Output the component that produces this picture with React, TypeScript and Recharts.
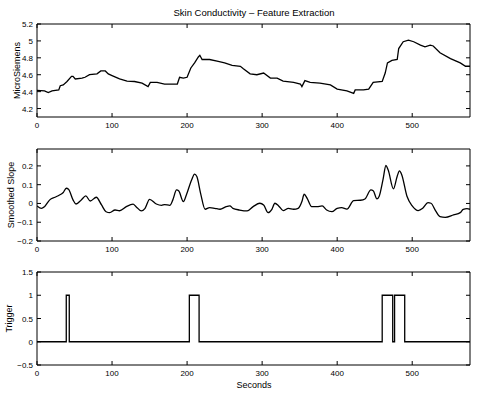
import React from "react";
import { LineChart, Line, XAxis, YAxis } from "recharts";

const scTimes = [0, 10, 15, 20, 29, 31, 35, 40, 46, 48, 51, 60, 64, 70, 80, 85, 91, 95, 100, 110, 120, 130, 140, 148, 151, 160, 170, 180, 187, 190, 195, 200, 205, 210, 215, 217, 220, 230, 240, 250, 260, 271, 275, 284, 293, 302, 311, 320, 328, 342, 351, 353, 357, 364, 377, 391, 400, 413, 422, 424, 435, 442, 448, 460, 464, 467, 473, 480, 482, 488, 495, 502, 511, 517, 524, 528, 537, 551, 564, 571, 577];
const scValues = [4.415, 4.41, 4.39, 4.41, 4.42, 4.47, 4.48, 4.52, 4.58, 4.58, 4.55, 4.56, 4.57, 4.6, 4.61, 4.645, 4.645, 4.61, 4.59, 4.55, 4.525, 4.52, 4.5, 4.46, 4.51, 4.51, 4.49, 4.49, 4.49, 4.57, 4.56, 4.57, 4.68, 4.74, 4.81, 4.83, 4.78, 4.78, 4.76, 4.74, 4.71, 4.7, 4.67, 4.61, 4.6, 4.62, 4.56, 4.56, 4.525, 4.51, 4.49, 4.46, 4.53, 4.51, 4.5, 4.48, 4.43, 4.41, 4.38, 4.42, 4.42, 4.43, 4.51, 4.52, 4.62, 4.74, 4.77, 4.78, 4.91, 4.99, 5.01, 4.99, 4.95, 4.93, 4.95, 4.94, 4.86, 4.79, 4.74, 4.7, 4.7];

const slopeTimes = [0, 6, 10, 17, 24, 30, 35, 39, 42, 48, 52, 59, 65, 71, 79, 86, 92, 97, 104, 110, 119, 128, 132, 139, 144, 150, 159, 166, 170, 177, 181, 186, 189, 195, 199, 206, 210, 213, 218, 224, 230, 237, 244, 252, 257, 261, 270, 280, 288, 297, 302, 308, 313, 317, 322, 328, 335, 342, 348, 353, 356, 360, 366, 373, 380, 386, 393, 400, 406, 413, 422, 431, 437, 445, 448, 453, 456, 461, 465, 468, 475, 480, 483, 486, 493, 500, 508, 514, 521, 525, 531, 537, 544, 555, 564, 568, 573, 577];
const slopeValues = [-0.013, -0.026, -0.017, 0.019, 0.033, 0.045, 0.058, 0.081, 0.076, 0.019, -0.003, 0.019, 0.04, 0.013, 0.033, -0.008, -0.044, -0.049, -0.035, -0.039, -0.017, -0.004, -0.017, -0.04, -0.026, 0.022, -0.003, -0.01, -0.006, -0.01, 0.019, 0.072, 0.066, 0.01, 0.045, 0.125, 0.156, 0.143, 0.054, -0.031, -0.022, -0.026, -0.031, -0.017, -0.013, -0.026, -0.035, -0.04, -0.017, 0.001, -0.008, -0.049, -0.031, 0.001, -0.013, -0.038, -0.026, -0.031, -0.026, 0.01, 0.049, 0.027, -0.017, -0.017, -0.013, -0.035, -0.044, -0.026, -0.022, -0.03, 0.015, 0.017, 0.024, 0.072, 0.068, 0.024, 0.038, 0.125, 0.202, 0.178, 0.078, 0.145, 0.173, 0.153, 0.038, -0.013, -0.038, -0.026, 0.004, 0.001, -0.038, -0.07, -0.074, -0.061, -0.049, -0.031, -0.028, -0.031];

const triggerTimes = [0, 39, 39, 43, 43, 203, 203, 216, 216, 460, 460, 474, 474, 476.5, 476.5, 490, 490, 577];
const triggerValues = [0, 0, 1, 1, 0, 0, 1, 1, 0, 0, 1, 1, 0, 0, 1, 1, 0, 0];

const xTicks = [0, 100, 200, 300, 400, 500];
const scTicks = [4.2, 4.4, 4.6, 4.8, 5, 5.2];
const slopeTicks = [-0.2, -0.1, 0, 0.1, 0.2];
const triggerTicks = [-0.5, 0, 0.5, 1, 1.5];

const X_MAX = 577;
const FONT = "'Liberation Sans', Arial, Helvetica, sans-serif";
const FS = 8;

const fmt = (v: number) => {
  const r = Math.round(v * 100) / 100;
  return String(r).replace("-", "\u2212");
};

const zip = (t: number[], v: number[]) => t.map((x, i) => ({ t: x, v: v[i] }));
const scData = zip(scTimes, scValues);
const slopeData = zip(slopeTimes, slopeValues);
const triggerData = zip(triggerTimes, triggerValues);

const LeftTick = (p: any) => (
  <g>
    <line x1={p.x} y1={p.y} x2={p.x + 4} y2={p.y} stroke="#000" />
    <text x={p.x - 4} y={p.y + 3} textAnchor="end" fontSize={FS} fontFamily={FONT} fill="#000">
      {fmt(p.payload.value)}
    </text>
  </g>
);
const RightTick = (p: any) => (
  <g>
    <line x1={p.x} y1={p.y} x2={p.x - 4} y2={p.y} stroke="#000" />
  </g>
);
const BottomTick = (p: any) => (
  <g>
    <line x1={p.x} y1={p.y} x2={p.x} y2={p.y - 4} stroke="#000" />
    <text x={p.x} y={p.y + 11} textAnchor="middle" fontSize={FS} fontFamily={FONT} fill="#000">
      {fmt(p.payload.value)}
    </text>
  </g>
);
const TopTick = (p: any) => (
  <g>
    <line x1={p.x} y1={p.y} x2={p.x} y2={p.y + 4} stroke="#000" />
  </g>
);

type PanelProps = {
  top: number;
  height: number;
  data: { t: number; v: number }[];
  domain: [number, number];
  ticks: number[];
  curve: "linear" | "monotone";
};

const Panel = ({ top, height, data, domain, ticks, curve }: PanelProps) => (
  <div style={{ position: "absolute", left: 0, top, width: 488, height }}>
    <LineChart width={488} height={height} data={data} margin={{ top: 0, right: 0, bottom: 0, left: 0 }}>
      <XAxis
        xAxisId="b"
        dataKey="t"
        type="number"
        domain={[0, X_MAX]}
        ticks={xTicks}
        interval={0}
        allowDataOverflow
        height={20}
        tickSize={0}
        tickMargin={0}
        tickLine={false}
        axisLine={{ stroke: "#000" }}
        tick={BottomTick}
      />
      <XAxis
        xAxisId="t"
        orientation="top"
        dataKey="t"
        type="number"
        domain={[0, X_MAX]}
        ticks={xTicks}
        interval={0}
        allowDataOverflow
        height={10}
        tickSize={0}
        tickMargin={0}
        tickLine={false}
        axisLine={{ stroke: "#000" }}
        tick={TopTick}
      />
      <YAxis
        yAxisId="l"
        type="number"
        domain={domain}
        ticks={ticks}
        interval={0}
        allowDataOverflow
        width={37}
        tickSize={0}
        tickMargin={0}
        tickLine={false}
        axisLine={{ stroke: "#000" }}
        tick={LeftTick}
      />
      <YAxis
        yAxisId="r"
        orientation="right"
        type="number"
        domain={domain}
        ticks={ticks}
        interval={0}
        allowDataOverflow
        width={18}
        tickSize={0}
        tickMargin={0}
        tickLine={false}
        axisLine={{ stroke: "#000" }}
        tick={RightTick}
      />
      <Line
        xAxisId="t"
        yAxisId="r"
        dataKey="v"
        type="linear"
        stroke="none"
        dot={false}
        activeDot={false}
        isAnimationActive={false}
      />
      <Line
        xAxisId="b"
        yAxisId="l"
        dataKey="v"
        type={curve}
        stroke="#000"
        strokeWidth={1.3}
        dot={false}
        activeDot={false}
        isAnimationActive={false}
      />
    </LineChart>
  </div>
);

export default function App() {
  return (
    <div style={{ position: "absolute", left: 0, top: 0, width: 488, height: 398, background: "#fff", overflow: "hidden" }}>
      <Panel top={14} height={123} data={scData} domain={[4.1, 5.2]} ticks={scTicks} curve="linear" />
      <Panel top={139} height={122} data={slopeData} domain={[-0.2, 0.29]} ticks={slopeTicks} curve="monotone" />
      <Panel top={262} height={123} data={triggerData} domain={[-0.5, 1.5]} ticks={triggerTicks} curve="linear" />
      <svg width={488} height={398} style={{ position: "absolute", left: 0, top: 0, pointerEvents: "none" }}>
        <g fontFamily={FONT} fontSize={9} fill="#000">
          <text x={254} y={16} textAnchor="middle" fontSize={9.5}>Skin Conductivity – Feature Extraction</text>
          <text x={254} y={388} textAnchor="middle">Seconds</text>
          <text transform="translate(20,70.5) rotate(-90)" textAnchor="middle">MicroSiemens</text>
          <text transform="translate(14,195) rotate(-90)" textAnchor="middle">Smoothed Slope</text>
          <text transform="translate(12,318.5) rotate(-90)" textAnchor="middle">Trigger</text>
        </g>
      </svg>
    </div>
  );
}
